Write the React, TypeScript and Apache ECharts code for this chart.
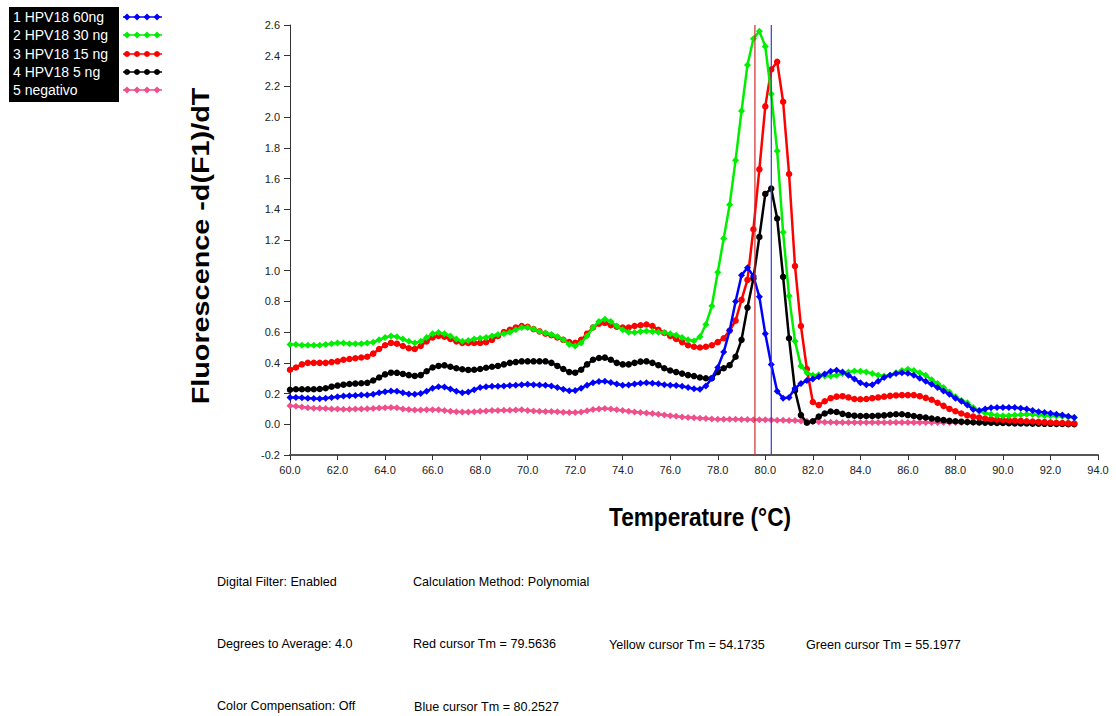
import React, { useEffect, useRef } from "react";
import * as echarts from "echarts";

// Temperature grid (°C) shared by all curves
const TEMPS = [
  60, 60.25, 60.5, 60.75, 61, 61.25, 61.5, 61.75, 62, 62.25, 62.5, 62.75,
  63, 63.25, 63.5, 63.75, 64, 64.25, 64.5, 64.75, 65, 65.25, 65.5, 65.75,
  66, 66.25, 66.5, 66.75, 67, 67.25, 67.5, 67.75, 68, 68.25, 68.5, 68.75,
  69, 69.25, 69.5, 69.75, 70, 70.25, 70.5, 70.75, 71, 71.25, 71.5, 71.75,
  72, 72.25, 72.5, 72.75, 73, 73.25, 73.5, 73.75, 74, 74.25, 74.5, 74.75,
  75, 75.25, 75.5, 75.75, 76, 76.25, 76.5, 76.75, 77, 77.25, 77.5, 77.75,
  78, 78.25, 78.5, 78.75, 79, 79.25, 79.5, 79.75, 80, 80.25, 80.5, 80.75,
  81, 81.25, 81.5, 81.75, 82, 82.25, 82.5, 82.75, 83, 83.25, 83.5, 83.75,
  84, 84.25, 84.5, 84.75, 85, 85.25, 85.5, 85.75, 86, 86.25, 86.5, 86.75,
  87, 87.25, 87.5, 87.75, 88, 88.25, 88.5, 88.75, 89, 89.25, 89.5, 89.75,
  90, 90.25, 90.5, 90.75, 91, 91.25, 91.5, 91.75, 92, 92.25, 92.5, 92.75,
  93,
];

// 1 HPV18 60ng (blue)
const HPV18_60NG = [
  0.175, 0.174, 0.172, 0.17, 0.168, 0.167, 0.17, 0.175, 0.18, 0.184, 0.186, 0.188,
  0.19, 0.19, 0.195, 0.205, 0.212, 0.217, 0.215, 0.205, 0.197, 0.195, 0.2, 0.215,
  0.235, 0.245, 0.243, 0.23, 0.215, 0.206, 0.21, 0.225, 0.24, 0.245, 0.247, 0.248,
  0.25, 0.252, 0.255, 0.258, 0.26, 0.258, 0.256, 0.254, 0.25, 0.24, 0.228, 0.218,
  0.22, 0.235, 0.255, 0.27, 0.278, 0.28, 0.272, 0.262, 0.255, 0.256, 0.262, 0.268,
  0.27, 0.268, 0.264, 0.258, 0.255, 0.252, 0.248, 0.24, 0.232, 0.228, 0.25, 0.3,
  0.37, 0.47, 0.61, 0.8, 0.97, 1.02, 0.965, 0.83, 0.59, 0.39, 0.215, 0.17,
  0.175, 0.235, 0.265, 0.285, 0.295, 0.31, 0.328, 0.345, 0.352, 0.34, 0.32, 0.295,
  0.27, 0.258, 0.258, 0.28, 0.305, 0.32, 0.33, 0.336, 0.333, 0.32, 0.3, 0.28,
  0.26, 0.24, 0.217, 0.195, 0.17, 0.15, 0.125, 0.097, 0.09, 0.1, 0.107, 0.109,
  0.11, 0.11, 0.109, 0.105, 0.1, 0.09, 0.082, 0.077, 0.072, 0.066, 0.06, 0.052,
  0.045,
];

// 2 HPV18 30 ng (green)
const HPV18_30NG = [
  0.52, 0.52, 0.515, 0.515, 0.515, 0.514, 0.52, 0.525, 0.53, 0.53, 0.525, 0.525,
  0.525, 0.53, 0.535, 0.55, 0.565, 0.575, 0.57, 0.555, 0.54, 0.53, 0.54, 0.565,
  0.59, 0.597, 0.59, 0.575, 0.555, 0.54, 0.545, 0.555, 0.56, 0.565, 0.575, 0.585,
  0.59, 0.6, 0.615, 0.63, 0.63, 0.62, 0.605, 0.595, 0.585, 0.57, 0.55, 0.52,
  0.51, 0.53, 0.575, 0.63, 0.67, 0.684, 0.67, 0.64, 0.615, 0.6, 0.597, 0.605,
  0.607, 0.605, 0.6, 0.597, 0.59, 0.58, 0.565, 0.55, 0.542, 0.57, 0.65, 0.77,
  0.99, 1.21, 1.43, 1.72, 2.04, 2.34, 2.51, 2.56, 2.46, 2.15, 1.78, 1.25,
  0.835, 0.54, 0.38, 0.335, 0.32, 0.322, 0.314, 0.314, 0.32, 0.33, 0.34, 0.347,
  0.345, 0.34, 0.33, 0.32, 0.314, 0.32, 0.335, 0.35, 0.358, 0.35, 0.335, 0.32,
  0.29, 0.265, 0.24, 0.21, 0.18, 0.155, 0.14, 0.11, 0.085, 0.073, 0.065, 0.058,
  0.055, 0.055, 0.06, 0.062, 0.065, 0.064, 0.06, 0.057, 0.055, 0.054, 0.05, 0.047,
  0.045,
];

// 3 HPV18 15 ng (red)
const HPV18_15NG = [
  0.355, 0.37, 0.39, 0.4, 0.4, 0.4, 0.4, 0.405, 0.41, 0.42, 0.425, 0.43,
  0.435, 0.44, 0.46, 0.49, 0.515, 0.53, 0.525, 0.51, 0.495, 0.49, 0.51, 0.54,
  0.565, 0.575, 0.57, 0.555, 0.54, 0.53, 0.53, 0.53, 0.53, 0.535, 0.55, 0.575,
  0.6, 0.615, 0.63, 0.64, 0.635, 0.62, 0.605, 0.59, 0.58, 0.565, 0.55, 0.535,
  0.53, 0.55, 0.59, 0.63, 0.655, 0.66, 0.645, 0.635, 0.63, 0.63, 0.64, 0.645,
  0.65, 0.64, 0.615, 0.595, 0.575, 0.555, 0.535, 0.515, 0.505, 0.5, 0.505, 0.515,
  0.535, 0.56, 0.61, 0.675, 0.81, 0.94, 1.27, 1.66, 2.07, 2.31, 2.36, 2.1,
  1.63, 1.03, 0.64, 0.36, 0.145, 0.125, 0.15, 0.17, 0.18, 0.183, 0.175, 0.165,
  0.163, 0.165, 0.17, 0.175, 0.18, 0.185, 0.188, 0.19, 0.19, 0.19, 0.183, 0.172,
  0.16, 0.14, 0.12, 0.1, 0.085, 0.07, 0.058, 0.05, 0.044, 0.038, 0.033, 0.03,
  0.028, 0.026, 0.024, 0.022, 0.02, 0.018, 0.016, 0.014, 0.012, 0.01, 0.008, 0.006,
  0.005,
];

// 4 HPV18 5 ng (black)
const HPV18_5NG = [
  0.225, 0.228, 0.228, 0.228, 0.228, 0.23, 0.235, 0.245, 0.252, 0.258, 0.262, 0.265,
  0.267, 0.27, 0.285, 0.305, 0.325, 0.336, 0.335, 0.328, 0.32, 0.315, 0.32, 0.345,
  0.37, 0.38, 0.384, 0.375, 0.365, 0.358, 0.354, 0.355, 0.36, 0.368, 0.375, 0.38,
  0.39, 0.4, 0.405, 0.41, 0.41, 0.41, 0.41, 0.41, 0.4, 0.38, 0.36, 0.34,
  0.336, 0.355, 0.39, 0.42, 0.432, 0.434, 0.42, 0.4, 0.39, 0.39, 0.4, 0.408,
  0.41, 0.4, 0.385, 0.365, 0.35, 0.34, 0.33, 0.32, 0.314, 0.305, 0.3, 0.3,
  0.34, 0.365, 0.385, 0.44, 0.55, 0.76, 0.95, 1.22, 1.5, 1.535, 1.34, 0.96,
  0.56, 0.22, 0.06, 0.01, 0.02, 0.05, 0.07, 0.083, 0.08, 0.068, 0.06, 0.056,
  0.054, 0.054, 0.054, 0.056, 0.058, 0.062, 0.065, 0.065, 0.06, 0.054, 0.048, 0.044,
  0.038, 0.032, 0.027, 0.022, 0.02, 0.017, 0.015, 0.013, 0.012, 0.011, 0.01, 0.009,
  0.008, 0.007, 0.006, 0.005, 0.005, 0.004, 0.004, 0.003, 0.003, 0.002, 0.002, 0.001,
  0.0,
];

// 5 negativo (pink)
const NEGATIVO = [
  0.12, 0.118, 0.113, 0.108, 0.105, 0.104, 0.102, 0.1, 0.099, 0.098, 0.098, 0.099,
  0.1, 0.101, 0.103, 0.106, 0.108, 0.109, 0.107, 0.1, 0.096, 0.093, 0.093, 0.094,
  0.095, 0.095, 0.09, 0.085, 0.082, 0.08, 0.08, 0.082, 0.085, 0.087, 0.089, 0.09,
  0.091, 0.092, 0.093, 0.094, 0.09, 0.087, 0.085, 0.084, 0.083, 0.081, 0.079, 0.077,
  0.076, 0.08, 0.088, 0.096, 0.1, 0.102, 0.1, 0.095, 0.09, 0.085, 0.08, 0.076,
  0.074, 0.07, 0.065, 0.06, 0.055, 0.052, 0.048, 0.045, 0.042, 0.04, 0.037, 0.034,
  0.033, 0.033, 0.032, 0.032, 0.031, 0.031, 0.03, 0.03, 0.029, 0.028, 0.027, 0.026,
  0.025, 0.024, 0.022, 0.02, 0.018, 0.016, 0.014, 0.013, 0.012, 0.012, 0.011, 0.011,
  0.011, 0.011, 0.011, 0.011, 0.011, 0.011, 0.011, 0.011, 0.011, 0.011, 0.011, 0.011,
  0.011, 0.011, 0.011, 0.011, 0.011, 0.011, 0.011, 0.011, 0.011, 0.01, 0.01, 0.01,
  0.01, 0.01, 0.01, 0.01, 0.01, 0.01, 0.01, 0.01, 0.01, 0.01, 0.01, 0.01,
  0.01,
];

const SERIES_NAMES = ["1 HPV18 60ng", "2 HPV18 30 ng", "3 HPV18 15 ng", "4 HPV18 5 ng", "5 negativo"];
const SERIES_VALUES = [HPV18_60NG, HPV18_30NG, HPV18_15NG, HPV18_5NG, NEGATIVO];
const SERIES_COLORS = ["#0000ff", "#00ee00", "#ff0000", "#000000", "#ef4f8b"];
const SERIES_SYMBOLS = ["diamond", "diamond", "circle", "circle", "diamond"];

const X_MIN = 60;
const X_MAX = 94;
const X_STEP = 2;
const Y_MIN = -0.2;
const Y_MAX = 2.6;
const Y_STEP = 0.2;

const CURSOR_NAMES = ["Red cursor", "Blue cursor"];
const CURSOR_TMS = [79.5636, 80.2527];
const CURSOR_COLORS = ["#d02a2a", "#3a3ad8"];

const INFO_TEXTS = [
  { text: "Digital Filter: Enabled", x: 217, y: 582 },
  { text: "Calculation Method: Polynomial", x: 413, y: 582 },
  { text: "Degrees to Average: 4.0", x: 217, y: 644 },
  { text: "Red cursor Tm = 79.5636", x: 413, y: 644 },
  { text: "Yellow cursor Tm = 54.1735", x: 609, y: 645 },
  { text: "Green cursor Tm = 55.1977", x: 806, y: 645 },
  { text: "Color Compensation: Off", x: 217, y: 706 },
  { text: "Blue cursor Tm = 80.2527", x: 414, y: 707 },
];

const FONT = "'Liberation Sans', Arial, Helvetica, sans-serif";

function legendGraphics() {
  const els: any[] = [
    { type: "rect", shape: { x: 9, y: 7, width: 110, height: 95 }, style: { fill: "#000" } },
  ];
  const rowY = [17, 35, 54, 72, 90];
  SERIES_NAMES.forEach((name, i) => {
    const y = rowY[i];
    els.push({
      type: "text",
      x: 13,
      y,
      style: {
        text: name, fill: "#fff", font: `14px ${FONT}`,
        align: "left", verticalAlign: "middle", textAlign: "left", textVerticalAlign: "middle",
      },
    });
    els.push({
      type: "line",
      shape: { x1: 123, y1: y, x2: 162, y2: y },
      style: { stroke: SERIES_COLORS[i], lineWidth: 1.5 },
    });
    [127, 137, 147, 157].forEach((cx) => {
      if (SERIES_SYMBOLS[i] === "circle") {
        els.push({ type: "circle", shape: { cx, cy: y, r: 3 }, style: { fill: SERIES_COLORS[i] } });
      } else {
        els.push({
          type: "polygon",
          shape: { points: [[cx, y - 3.5], [cx + 3.5, y], [cx, y + 3.5], [cx - 3.5, y]] },
          style: { fill: SERIES_COLORS[i] },
        });
      }
    });
  });
  return els;
}

export default function App() {
  const ref = useRef<HTMLDivElement>(null);
  useEffect(() => {
    if (!ref.current) return;
    const chart = echarts.init(ref.current, null, { renderer: "svg" });
    const series: any[] = [];
    // vertical Tm cursors, drawn first (under the curves' top layers)
    CURSOR_TMS.forEach((tm, j) => {
      series.push({
        name: CURSOR_NAMES[j],
        type: "line",
        data: [[tm, Y_MIN], [tm, Y_MAX]],
        symbol: "none",
        silent: true,
        color: CURSOR_COLORS[j],
        lineStyle: { color: CURSOR_COLORS[j], width: 1.2, type: "solid" },
        itemStyle: { color: CURSOR_COLORS[j] },
        emphasis: { disabled: true },
        z: 20,
      });
    });
    const order = [4, 3, 2, 1, 0];
    order.forEach((idx, k) => {
      series.push({
        name: SERIES_NAMES[idx],
        type: "line",
        data: TEMPS.map((t, i) => [t, SERIES_VALUES[idx][i]]),
        symbol: SERIES_SYMBOLS[idx],
        symbolSize: SERIES_SYMBOLS[idx] === "circle" ? 6.5 : 7,
        showSymbol: true,
        showAllSymbol: true,
        color: SERIES_COLORS[idx],
        lineStyle: { color: SERIES_COLORS[idx], width: 2.5 },
        itemStyle: { color: SERIES_COLORS[idx] },
        emphasis: { disabled: true },
        silent: true,
        z: 2 + k,
      });
    });

    chart.setOption({
      animation: false,
      backgroundColor: "#ffffff",
      grid: { left: 290, right: 18, top: 25, bottom: 261, containLabel: false, outerBoundsMode: "none" },
      xAxis: {
        type: "value",
        min: X_MIN,
        max: X_MAX,
        interval: X_STEP,
        axisLine: { onZero: false, lineStyle: { color: "#555", width: 2 } },
        axisTick: { show: true, length: 5, lineStyle: { color: "#333" } },
        axisLabel: { color: "#222", fontSize: 11, fontFamily: FONT, margin: 9, formatter: (v: number) => v.toFixed(1) },
        splitLine: { show: false },
      },
      yAxis: {
        type: "value",
        min: Y_MIN,
        max: Y_MAX,
        interval: Y_STEP,
        axisLine: { show: true, lineStyle: { color: "#333", width: 1 } },
        axisTick: { show: true, length: 6, lineStyle: { color: "#333" } },
        axisLabel: { color: "#222", fontSize: 11, fontFamily: FONT, margin: 10, formatter: (v: number) => v.toFixed(1) },
        splitLine: { show: false },
      },
      series,
      graphic: [
        ...legendGraphics(),
        {
          type: "text",
          x: 201,
          y: 246,
          rotation: Math.PI / 2,
          scaleX: 1.2,
          style: {
            text: "Fluorescence -d(F1)/dT", fill: "#000", font: `bold 24px ${FONT}`,
            align: "center", verticalAlign: "middle", textAlign: "center", textVerticalAlign: "middle",
          },
        },
        {
          type: "text",
          x: 700,
          y: 517,
          scaleX: 0.87,
          style: {
            text: "Temperature (°C)", fill: "#000", font: `bold 26px ${FONT}`,
            align: "center", verticalAlign: "middle", textAlign: "center", textVerticalAlign: "middle",
          },
        },
        ...INFO_TEXTS.map((t) => ({
          type: "text",
          x: t.x,
          y: t.y,
          scaleX: 1.05,
          style: {
            text: t.text, fill: "#000", font: `12px ${FONT}`,
            align: "left", verticalAlign: "middle", textAlign: "left", textVerticalAlign: "middle",
          },
        })),
      ],
    });
    return () => chart.dispose();
  }, []);
  return (
    <div
      ref={ref}
      style={{ position: "fixed", left: 0, top: 0, width: 1116, height: 716, background: "#fff" }}
    />
  );
}
